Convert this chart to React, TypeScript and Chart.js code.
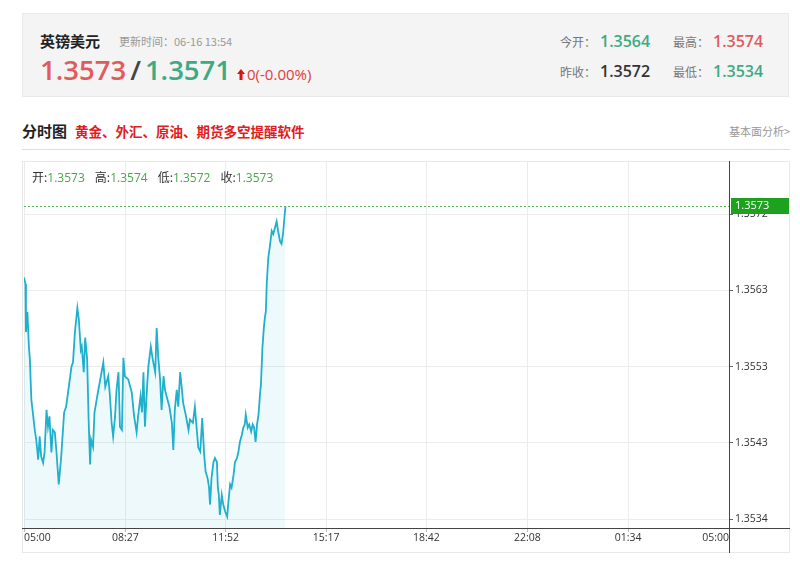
import React, { useEffect, useRef } from "react";
import { Chart, registerables } from "chart.js";

Chart.register(...registerables);

// minutes after 05:00
const times = [
  0, 3, 4, 7, 10, 12, 15, 18, 22, 25, 29, 32, 35, 39, 42, 46, 49, 52, 56, 59,
  63, 66, 71, 76, 82, 86, 90, 97, 100, 104, 109, 112, 116, 118, 122, 125, 129, 132, 135, 137,
  141, 144, 151, 157, 162, 166, 172, 175, 179, 182, 186, 189, 193, 196, 200, 203, 206, 213, 220, 225,
  230, 233, 238, 241, 244, 247, 251, 254, 259, 263, 268, 271, 274, 278, 281, 285, 288, 293, 297, 302,
  305, 308, 312, 315, 319, 322, 325, 331, 336, 339, 345, 349, 353, 356, 360, 364, 368, 371, 375, 378,
  380, 383, 387, 390, 394, 396, 398, 400, 404, 407, 411, 415, 417, 421, 424, 428, 431, 435, 438, 441,
  445, 448, 451, 453, 457, 460, 464, 467, 470, 473, 476, 479, 482, 484, 487, 490, 492, 494, 496, 499,
  502, 506, 509, 513, 516, 519, 523, 526, 529, 534,
];
const prices = [
  1.35641, 1.35633, 1.35573, 1.35598, 1.35555, 1.35539, 1.35489, 1.35473, 1.35451, 1.35439,
  1.35414, 1.35443, 1.35418, 1.3541, 1.35423, 1.35476, 1.35455, 1.35468, 1.35423, 1.35451,
  1.35448, 1.35426, 1.35383, 1.35418, 1.35473, 1.3548, 1.35498, 1.3553, 1.35535, 1.35573,
  1.35603, 1.35589, 1.35551, 1.35555, 1.35523, 1.35566, 1.35539, 1.35464, 1.35408, 1.35439,
  1.3543, 1.35473, 1.35498, 1.35518, 1.35535, 1.35505, 1.35518, 1.35498, 1.3546, 1.35443,
  1.35468, 1.35501, 1.35523, 1.35455, 1.35451, 1.35541, 1.35518, 1.35514, 1.35498, 1.35468,
  1.35448, 1.35468, 1.35493, 1.35473, 1.35523, 1.35455, 1.35501, 1.3553, 1.35555, 1.35539,
  1.35523, 1.35578, 1.35543, 1.35514, 1.35476, 1.35518, 1.35501, 1.35489, 1.3548, 1.3546,
  1.35426, 1.35476, 1.35501, 1.3548, 1.35523, 1.35505, 1.35485, 1.35468, 1.35451, 1.35464,
  1.3546, 1.3548, 1.35451, 1.35429, 1.35424, 1.35466, 1.3542, 1.35399, 1.35391, 1.35379,
  1.35358, 1.35391, 1.35411, 1.35416, 1.35411, 1.35379, 1.3537, 1.35345, 1.3537, 1.35358,
  1.35349, 1.35343, 1.35358, 1.35383, 1.35379, 1.35395, 1.35411, 1.35416, 1.35424, 1.35436,
  1.35445, 1.35454, 1.35458, 1.3547, 1.35454, 1.35458, 1.35449, 1.35458, 1.35454, 1.35436,
  1.35458, 1.3547, 1.35495, 1.35508, 1.35554, 1.35579, 1.35591, 1.35599, 1.35636, 1.35666,
  1.35679, 1.35699, 1.35695, 1.35704, 1.35711, 1.35699, 1.35686, 1.35683, 1.35695, 1.3573,
];

const xTickMinutes = [0, 207, 412, 617, 822, 1028, 1234, 1440];
const xTickLabels = ["05:00", "08:27", "11:52", "15:17", "18:42", "22:08", "01:34", "05:00"];
const yTickValues = [1.3534, 1.35435, 1.3553, 1.35625, 1.3572];
const yTickLabels = ["1.3534", "1.3543", "1.3553", "1.3563", "1.3572"];
const yMin = 1.353288;
const yMax = 1.35785;
const lastPrice = 1.3573;
const lastPriceLabel = "1.3573";

const ohlcLabels = ["开:", "高:", "低:", "收:"];
const ohlcValues = ["1.3573", "1.3574", "1.3572", "1.3573"];

const RED = "#e25b5b";
const GREEN = "#3daa84";
const CJK = '"Noto Sans CJK SC", "Open Sans", sans-serif';
const NUM = '"Open Sans", "Noto Sans CJK SC", sans-serif';

const overlayPlugin = {
  id: "overlay",
  afterDatasetsDraw(chart: any) {
    const { ctx, chartArea, scales } = chart;
    const y = Math.round(scales.y.getPixelForValue(lastPrice)) + 0.5;
    ctx.save();
    ctx.strokeStyle = "#5cb85c";
    ctx.lineWidth = 1;
    ctx.setLineDash([2, 2]);
    ctx.beginPath();
    ctx.moveTo(chartArea.left, y);
    ctx.lineTo(chartArea.right, y);
    ctx.stroke();
    ctx.restore();
  },
  afterDraw(chart: any) {
    const { ctx, chartArea, scales, width, height } = chart;
    ctx.save();
    ctx.strokeStyle = "#444";
    ctx.lineWidth = 1;
    ctx.beginPath();
    const by = Math.round(chartArea.bottom) + 0.5;
    ctx.moveTo(0, by);
    ctx.lineTo(width, by);
    const rx = Math.round(chartArea.right) + 0.5;
    ctx.moveTo(rx, 0);
    ctx.lineTo(rx, height);
    ctx.stroke();
    const y = Math.round(scales.y.getPixelForValue(lastPrice));
    ctx.fillStyle = "#1ca21c";
    ctx.fillRect(chartArea.right + 2, y - 8, 58, 16);
    ctx.fillStyle = "#fff";
    ctx.font = '11px "Open Sans", sans-serif';
    ctx.textBaseline = "middle";
    ctx.textAlign = "left";
    ctx.fillText(lastPriceLabel, chartArea.right + 6, y);
    ctx.restore();
  },
};

function PriceChart() {
  const ref = useRef<HTMLCanvasElement | null>(null);
  useEffect(() => {
    if (!ref.current) return;
    const chart = new Chart(ref.current, {
      type: "line",
      data: {
        datasets: [
          {
            data: times.map((t, i) => ({ x: t, y: prices[i] })),
            borderColor: "#1fb0cc",
            borderWidth: 1.8,
            backgroundColor: "rgba(34,178,207,0.08)",
            fill: "start",
            pointRadius: 0,
            tension: 0,
          },
        ],
      },
      options: {
        animation: false,
        responsive: false,
        events: [],
        layout: { padding: { left: 2, top: 1, right: 0, bottom: 0 } },
        plugins: { legend: { display: false }, tooltip: { enabled: false } },
        scales: {
          x: {
            type: "linear",
            min: 0,
            max: 1440,
            afterBuildTicks: (s: any) => {
              s.ticks = xTickMinutes.map((v) => ({ value: v }));
            },
            afterFit: (s: any) => {
              s.height = 25;
              s.paddingLeft = 0;
              s.paddingRight = 0;
            },
            border: { display: false },
            grid: { color: "#ececec", tickLength: 4, tickColor: "#bbb" },
            ticks: {
              autoSkip: false,
              maxRotation: 0,
              align: "inner",
              padding: 0,
              color: "#333",
              font: { family: '"Open Sans", sans-serif', size: 10.5 },
              callback: (_v: any, i: number) => xTickLabels[i],
            },
          },
          y: {
            type: "linear",
            position: "right",
            min: yMin,
            max: yMax,
            afterBuildTicks: (s: any) => {
              s.ticks = yTickValues.map((v) => ({ value: v }));
            },
            afterFit: (s: any) => {
              s.width = 61;
              s.paddingTop = 0;
              s.paddingBottom = 0;
            },
            border: { display: false },
            grid: { color: "#ececec", tickLength: 4, tickColor: "#666" },
            ticks: {
              padding: 2,
              color: "#333",
              font: { family: '"Open Sans", sans-serif', size: 10.5 },
              callback: (_v: any, i: number) => yTickLabels[i],
            },
          },
        },
      },
      plugins: [overlayPlugin],
    } as any);
    return () => chart.destroy();
  }, []);
  return <canvas ref={ref} width={768} height={392} style={{ position: "absolute", left: 0, top: 0 }} />;
}

function Abs(props: { left?: number; right?: number; top: number; children: any; style?: any }) {
  return (
    <div style={{ position: "absolute", left: props.left, right: props.right, top: props.top, whiteSpace: "nowrap", ...props.style }}>
      {props.children}
    </div>
  );
}

export default function App() {
  return (
    <div style={{ position: "absolute", left: 0, top: 0, width: 800, height: 584, background: "#fff", overflow: "hidden", fontFamily: CJK }}>
      {/* header box */}
      <div style={{ position: "absolute", left: 22, top: 13, width: 767, height: 84, background: "#f4f4f4", border: "1px solid #e9e9e9", boxSizing: "border-box" }} />
      <Abs left={40} top={31} style={{ fontSize: 15, fontWeight: 700, color: "#222", lineHeight: "20px" }}>英镑美元</Abs>
      <Abs left={119} top={34} style={{ fontSize: 11, color: "#999", lineHeight: "14px" }}>更新时间：06-16 13:54</Abs>
      <Abs left={40} top={53} style={{ display: "flex", alignItems: "baseline", lineHeight: "34px" }}>
        <span style={{ fontFamily: NUM, fontSize: 27.5, fontWeight: 600, color: RED }}>1.3573</span>
        <span style={{ fontFamily: NUM, fontSize: 27.5, fontWeight: 600, color: "#444", margin: "0 4px" }}>/</span>
        <span style={{ fontFamily: NUM, fontSize: 27.5, fontWeight: 600, color: GREEN }}>1.3571</span>
        <svg width="8" height="11" viewBox="0 0 8 11" style={{ marginLeft: 6, marginRight: 2 }}>
          <path d="M4 0 L8 5 L5.5 5 L5.5 11 L2.5 11 L2.5 5 L0 5 Z" fill="#e01010" />
        </svg>
        <span style={{ fontFamily: NUM, fontSize: 15, color: "#e04040" }}>0(-0.00%)</span>
      </Abs>

      <Abs left={560} top={31} style={{ display: "flex", alignItems: "baseline", lineHeight: "20px" }}>
        <span style={{ fontSize: 12, color: "#777", width: 40, display: "inline-block" }}>今开：</span>
        <span style={{ fontFamily: NUM, fontSize: 16, fontWeight: 600, color: GREEN }}>1.3564</span>
      </Abs>
      <Abs left={673} top={31} style={{ display: "flex", alignItems: "baseline", lineHeight: "20px" }}>
        <span style={{ fontSize: 12, color: "#777", width: 40, display: "inline-block" }}>最高：</span>
        <span style={{ fontFamily: NUM, fontSize: 16, fontWeight: 600, color: RED }}>1.3574</span>
      </Abs>
      <Abs left={560} top={61} style={{ display: "flex", alignItems: "baseline", lineHeight: "20px" }}>
        <span style={{ fontSize: 12, color: "#777", width: 40, display: "inline-block" }}>昨收：</span>
        <span style={{ fontFamily: NUM, fontSize: 16, fontWeight: 600, color: "#333" }}>1.3572</span>
      </Abs>
      <Abs left={673} top={61} style={{ display: "flex", alignItems: "baseline", lineHeight: "20px" }}>
        <span style={{ fontSize: 12, color: "#777", width: 40, display: "inline-block" }}>最低：</span>
        <span style={{ fontFamily: NUM, fontSize: 16, fontWeight: 600, color: GREEN }}>1.3534</span>
      </Abs>

      {/* section title */}
      <Abs left={22} top={121} style={{ fontSize: 15, fontWeight: 700, color: "#222", lineHeight: "20px" }}>分时图</Abs>
      <Abs left={75} top={121} style={{ fontSize: 13.5, fontWeight: 700, color: "#e0201c", lineHeight: "20px" }}>黄金、外汇、原油、期货多空提醒软件</Abs>
      <Abs right={10} top={124} style={{ fontSize: 11, color: "#999", lineHeight: "14px" }}>基本面分析&gt;</Abs>
      <div style={{ position: "absolute", left: 22, top: 149, width: 768, height: 1, background: "#ddd" }} />

      {/* chart box */}
      <div style={{ position: "absolute", left: 22, top: 161, width: 768, height: 392, border: "1px solid #e8e8e8", boxSizing: "border-box" }} />
      <div style={{ position: "absolute", left: 22, top: 161, width: 768, height: 392 }}>
        <PriceChart />
      </div>
      <Abs left={32} top={169} style={{ fontSize: 12, lineHeight: "16px", display: "flex" }}>
        {ohlcLabels.map((l, i) => (
          <span key={i} style={{ marginRight: 10 }}>
            <span style={{ color: "#333" }}>{l}</span>
            <span style={{ fontFamily: NUM, color: "#4aa64a" }}>{ohlcValues[i]}</span>
          </span>
        ))}
      </Abs>
    </div>
  );
}
